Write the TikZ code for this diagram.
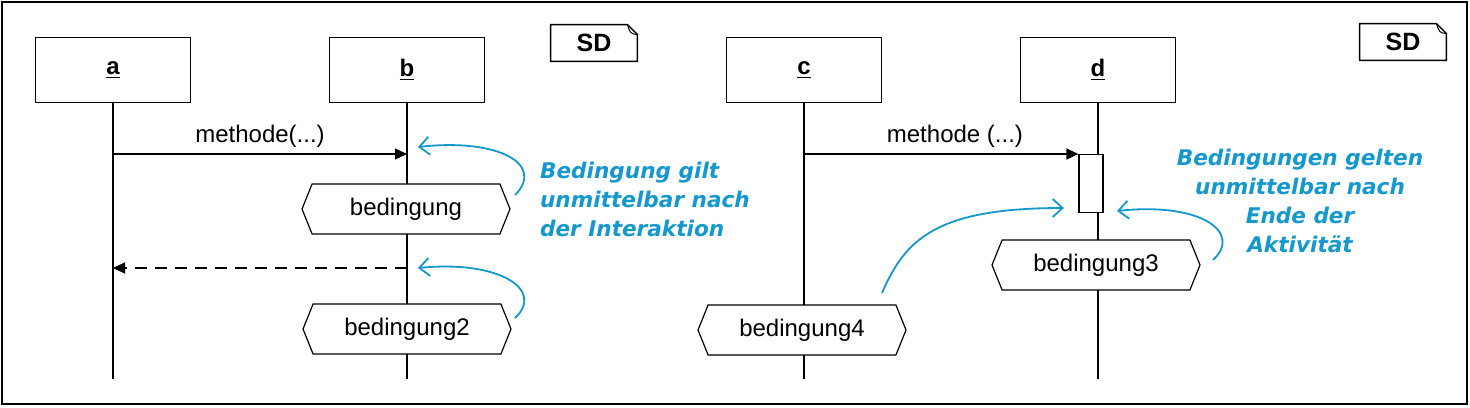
\documentclass[tikz,border=0pt]{standalone}
\usepackage{fontspec}
\setmainfont{Liberation Sans}
\newfontfamily\notefont{DejaVu Sans}
\usepackage{tikz}
\usetikzlibrary{arrows.meta, positioning, shapes.symbols}
\usepackage{xcolor}
\definecolor{notecol}{RGB}{20,152,206}

\begin{document}
\begin{tikzpicture}[
    x=0.5pt, y=-0.5pt,
    every node/.style={font=\fontsize{12}{14}\selectfont},
    head/.style={draw, fill=white, minimum width=77.5pt, minimum height=32.5pt, line width=0.7pt},
    lifeline/.style={line width=0.7pt},
    cond/.style={signal, signal to=west and east, signal pointer angle=136, draw, fill=white,
      minimum width=104pt, minimum height=25pt, line width=0.6pt},
    sdtag/.style={minimum width=43pt, minimum height=18pt, font=\fontsize{12.5}{14}\selectfont\bfseries},
    msg/.style={line width=0.6pt, -{Triangle[length=6pt, width=5.5pt]}},
    reply/.style={msg, dash pattern=on 6pt off 4pt},
    note/.style={font=\fontsize{10.8}{14.5}\selectfont\notefont\bfseries\itshape, text=notecol},
    hint/.style={draw=notecol, line width=0.9pt, -{Straight Barb[length=5pt, width=9pt]}},
  ]
  \useasboundingbox (0,0) rectangle (1470,407);
  \draw[line width=1pt] (1.5,1.5) rectangle (1467,404);

  % lifeline heads
  \node[head] (a) at (113,70) {\underline{\textbf{a}}};
  \node[head] (b) at (407,70) {\underline{\textbf{b}}};
  \node[head] (c) at (804,70) {\underline{\textbf{c}}};
  \node[head] (d) at (1098,70) {\underline{\textbf{d}}};
  \foreach \n in {a,b,c,d}
    \draw[lifeline] (\n.south) -- ++(0,276);

  % frame tags
  \node[sdtag] (sd1) at (594,43) {SD};
  \node[sdtag] (sd2) at (1403,42) {SD};
  \foreach \t in {sd1,sd2} {
    \draw[line width=0.7pt] ([xshift=-5pt]\t.north east) -- (\t.north west) -- (\t.south west)
      -- (\t.south east) -- ([yshift=-5pt]\t.north east) -- cycle;
    \draw[line width=0.5pt] ([xshift=-5pt]\t.north east) .. controls ([xshift=-3.5pt,yshift=-4.5pt]\t.north east)
      .. ([yshift=-5pt]\t.north east);
  }

  % messages
  \coordinate (m1s) at (113,154);
  \coordinate (m1e) at (407,154);
  \coordinate (r1s) at (407,268);
  \coordinate (r1e) at (113,268);
  \coordinate (m2s) at (804,154);
  \node[draw, fill=white, minimum width=12pt, minimum height=29pt, inner sep=0pt,
    line width=0.6pt, anchor=north] (act) at (1091,154) {};
  \draw[msg] (m1s) -- node[above, inner sep=3pt] {methode(...)} (m1e);
  \draw[reply] (r1s) -- (r1e);
  \draw[msg] (m2s) -- node[above, inner sep=3pt, pos=0.55] {methode (...)} (act.north west);

  % conditions
  \node[cond] (cond1) at (406,209) {bedingung};
  \node[cond] (cond2) at (407,329) {bedingung2};
  \node[cond] (cond3) at (1096,265) {bedingung3};
  \node[cond] (cond4) at (802,330) {bedingung4};

  % notes
  \node[note, anchor=west, align=left] (note1) at (533,199) {Bedingung gilt\\unmittelbar nach\\der Interaktion};
  \node[note, align=center] (note2) at (1300,201) {Bedingungen gelten\\unmittelbar nach\\Ende der\\Aktivität};

  \coordinate (h1s) at (515,195);
  \coordinate (h1e) at (418,147);
  \coordinate (h2s) at (515,318);
  \coordinate (h2e) at (418,268);
  \coordinate (h3s) at (882,293);
  \coordinate (h3e) at (1064,208);
  \coordinate (h4s) at (1213,260);
  \coordinate (h4e) at (1117,211);
  \draw[hint] (h1s) .. controls (545,165) and (500,138) .. (h1e);
  \draw[hint] (h2s) .. controls (545,290) and (500,260) .. (h2e);
  \draw[hint] (h3s) .. controls (905,240) and (935,208) .. (h3e);
  \draw[hint] (h4s) .. controls (1243,232) and (1200,202) .. (h4e);
\end{tikzpicture}
\end{document}
